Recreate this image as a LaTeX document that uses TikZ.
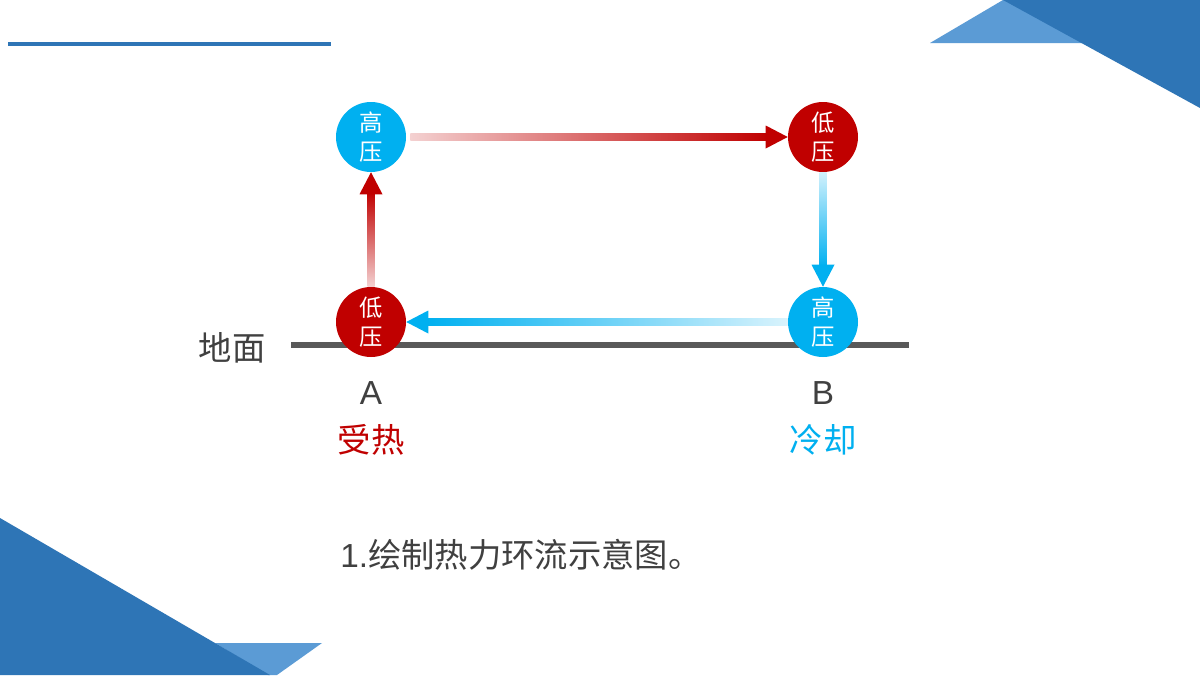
\documentclass[tikz,border=0pt]{standalone}
\usepackage{fontspec}
\setmainfont{Liberation Sans}
\newfontfamily\cjk{Noto Sans CJK SC}
\usetikzlibrary{calc}
\definecolor{myblue}{HTML}{00B0F0}
\definecolor{myred}{HTML}{C00000}
\definecolor{deco}{HTML}{2E75B6}
\definecolor{decolight}{HTML}{5B9BD5}
\definecolor{txt}{HTML}{404040}
\definecolor{groundc}{HTML}{595959}
\begin{document}
\begin{tikzpicture}[x=0.75pt,y=-0.75pt,
  circ/.style={circle,minimum size=52.5pt,inner sep=0pt,text=white,
    font=\cjk\fontsize{17.5}{22}\selectfont,align=center},
  bigtxt/.style={inner sep=0pt,font=\cjk\fontsize{25}{28}\selectfont},
  lettxt/.style={inner sep=0pt,font=\fontsize{25}{28}\selectfont,text=txt}]
\useasboundingbox (0,0) rectangle (1200,675);
\fill[white] (0,0) rectangle (1200,675);
% decorations
\fill[decolight] (930,43) -- (1003,0) -- (1010,0) -- (1083,43) -- cycle;
\fill[deco] (1003,0) -- (1200,0) -- (1200,108) -- cycle;
\fill[decolight] (215,643) -- (322,643) -- (277,675) -- (268,675) -- cycle;
\fill[deco] (0,518) -- (270,675) -- (0,675) -- cycle;
\draw[deco,line width=3pt] (8,44) -- (331,44);
% ground
\coordinate (g1) at (291,345);
\coordinate (g2) at (909,345);
\draw[groundc,line width=4.5pt] (g1) -- (g2);
% circles
\node[circ,fill=myblue] (hA) at (371,137) {高\\压};
\node[circ,fill=myred]  (lB) at (823,137) {低\\压};
\node[circ,fill=myred]  (lA) at (371,322) {低\\压};
\node[circ,fill=myblue] (hB) at (823,322) {高\\压};
% top arrow hA -> lB
\shade[left color=myred!18,right color=myred] ($(hA.east)+(4,-3.5)$) rectangle ($(lB.west)+(-20,3.5)$);
\fill[myred] ($(lB.west)+(-22,-11.5)$) -- (lB.west) -- ($(lB.west)+(-22,11.5)$) -- cycle;
% left arrow lA -> hA
\shade[top color=myred,bottom color=myred!18] ($(lA.north)+(-3.5,0)$) rectangle ($(hA.south)+(3.5,20)$);
\fill[myred] ($(hA.south)+(-11.5,22)$) -- (hA.south) -- ($(hA.south)+(11.5,22)$) -- cycle;
% right arrow lB -> hB
\shade[top color=myblue!18,bottom color=myblue] ($(lB.south)+(-3.5,0)$) rectangle ($(hB.north)+(3.5,-20)$);
\fill[myblue] ($(hB.north)+(-11.5,-22)$) -- (hB.north) -- ($(hB.north)+(11.5,-22)$) -- cycle;
% bottom arrow hB -> lA
\shade[left color=myblue,right color=myblue!15] ($(lA.east)+(20,-3.5)$) rectangle ($(hB.west)+(0,3.5)$);
\fill[myblue] ($(lA.east)+(22,-11.5)$) -- (lA.east) -- ($(lA.east)+(22,11.5)$) -- cycle;
% labels
\node[bigtxt,text=txt] (gl) at (232,348) {地面};
\node[lettxt] (la) at (371,393) {A};
\node[lettxt] (lb) at (823,393) {B};
\node[bigtxt,text=myred] (ra) at (371,440) {受热};
\node[bigtxt,text=myblue] (rb) at (823,440) {冷却};
\node[inner sep=0pt,anchor=west,text=txt,font=\fontsize{25}{28}\selectfont] (cap) at (340,555) {1.{\cjk 绘制热力环流示意图。}};
\end{tikzpicture}
\end{document}
